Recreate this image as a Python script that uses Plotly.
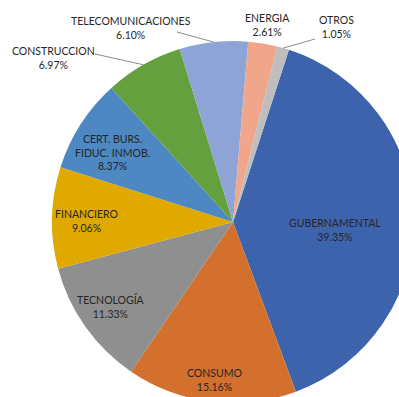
import math
import plotly.graph_objects as go

# Portfolio share by sector (percent)
sectors = ["GUBERNAMENTAL", "CONSUMO", "TECNOLOGÍA", "FINANCIERO",
           "CERT. BURS.<br>FIDUC. INMOB.", "CONSTRUCCION",
           "TELECOMUNICACIONES", "ENERGIA", "OTROS"]
shares = [39.35, 15.16, 11.33, 9.06, 8.37, 6.97, 6.10, 2.61, 1.05]

colors = ["#3D63AD", "#D4702D", "#8F8F8F", "#DFA900", "#4D88C2",
          "#64A03E", "#8FA4D6", "#F0A68A", "#BEBEBE"]

# canvas and pie geometry (pixels)
W, H = 420, 410
CX, CY, R = 233, 222, 181
ROTATION = 18

# label centres in pixels, and which labels get a leader line
label_xy = [(335, 230), (214, 380), (111, 306), (86, 221), (112, 152),
            (54, 58), (131, 28), (267, 25), (336, 27)]
leader_start = {5: (95, 54), 6: (177, 32), 8: (315, 39)}


def px(x):
    return x / W


def py(y):
    return 1 - y / H


fig = go.Figure(go.Pie(
    labels=sectors,
    values=shares,
    sort=False,
    direction="clockwise",
    rotation=ROTATION,
    marker=dict(colors=colors, line=dict(width=0)),
    textinfo="none",
    hoverinfo="label+percent",
    showlegend=False,
    domain=dict(x=[px(CX - R), px(CX + R)], y=[py(CY + R), py(CY - R)]),
))

total = sum(shares)
cum = 0.0
for i, (name, val) in enumerate(zip(sectors, shares)):
    mid = math.radians(ROTATION + (cum + val / 2) / total * 360)
    cum += val
    lx, ly = label_xy[i]
    fig.add_annotation(
        x=px(lx), y=py(ly), xref="paper", yref="paper",
        text=f"{name}<br>{val:.2f}%", showarrow=False,
        xanchor="center", yanchor="middle",
        font=dict(family="Lato, Carlito, sans-serif", size=10.5, color="#262626"),
    )
    if i in leader_start:
        ex = CX + R * math.sin(mid)
        ey = CY - R * math.cos(mid)
        sx, sy = leader_start[i]
        fig.add_shape(type="line", xref="paper", yref="paper",
                      x0=px(sx), y0=py(sy), x1=px(ex), y1=py(ey),
                      line=dict(color="#8C8C8C", width=1))

fig.update_layout(
    width=W, height=H,
    margin=dict(l=0, r=0, t=0, b=0),
    paper_bgcolor="white", plot_bgcolor="white",
)

fig.write_html(
    "out.html",
    post_script="document.documentElement.style.overflow='hidden';"
                "document.body.style.overflow='hidden';"
                "document.body.style.margin='0';",
)
